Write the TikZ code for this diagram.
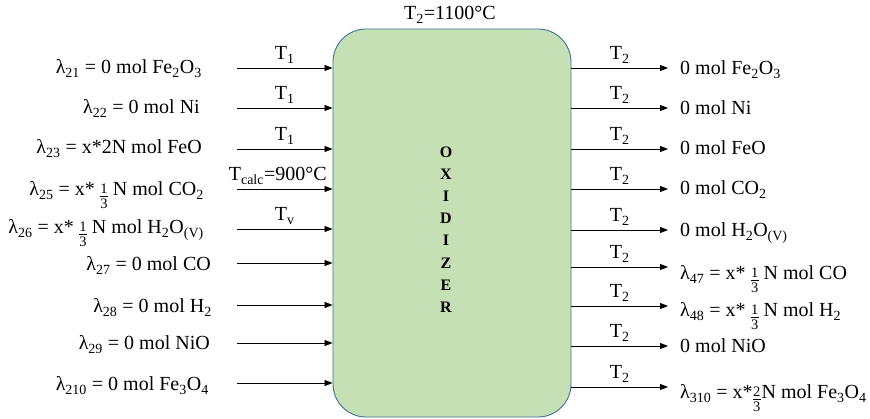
\documentclass[tikz,border=0pt]{standalone}
\usepackage{fontspec}
\setmainfont{Liberation Serif}
\usetikzlibrary{arrows.meta}
\definecolor{boxfill}{HTML}{C5E0B4}
\definecolor{boxline}{HTML}{41719C}
\newcommand\frc[2]{\raisebox{-12.5pt}{\vbox{\offinterlineskip\hbox to 8pt{\hss\fontsize{14.5}{14.5}\selectfont#1\hss}\kern2.5pt\hrule height 0.4pt\kern2.5pt\hbox to 8pt{\hss\fontsize{14.5}{14.5}\selectfont#2\hss}}}}
\newcommand\sub[1]{\textsubscript{#1}}
\begin{document}
\begin{tikzpicture}[x=1pt,y=-1pt,
  every node/.style={font=\fontsize{20}{24}\selectfont, inner sep=0pt},
  lbl/.style={anchor=base east},
  rlbl/.style={anchor=base west},
  tl/.style={anchor=base, yshift=8pt},
  flow/.style={line width=0.8pt, -{Triangle[length=8pt,width=6pt]}}]
\useasboundingbox (0,0) rectangle (870,419);
\node[draw=boxline, line width=0.9pt, fill=boxfill, rounded corners=33pt,
      minimum width=238pt, minimum height=388pt] (box) at (452,223) {};
\node[font=\fontsize{16}{22.2}\selectfont\bfseries, align=center] (name) at (446,229.5) {O\\X\\I\\D\\I\\Z\\E\\R};
\node[anchor=base] (top) at (450,20) {T\sub{2}=1100°C};
% inputs
\foreach \i/\y/\ly/\lx/\t/\tx in {
  1/68/74/202/{λ\sub{21} = 0 mol Fe\sub{2}O\sub{3}}/{T\sub{1}},
  2/108/114/200/{λ\sub{22} = 0 mol Ni}/{T\sub{1}},
  3/149/154/202/{λ\sub{23} = x*2N mol FeO}/{T\sub{1}},
  4/189/196/204/{λ\sub{25} = x* \frc{1}{3} N mol CO\sub{2}}/{\hspace*{-14pt}T\sub{calc}=900°C},
  5/229/234/204/{λ\sub{26} = x* \frc{1}{3} N mol H\sub{2}O\sub{(V)}}/{T\sub{v}},
  6/263/271/211/{λ\sub{27} = 0 mol CO}/{},
  7/305/313/212/{λ\sub{28} = 0 mol H\sub{2}}/{},
  8/343/350/210/{λ\sub{29} = 0 mol NiO}/{},
  9/383/391/209/{λ\sub{210} = 0 mol Fe\sub{3}O\sub{4}}/{}} {
  \node[lbl] (in\i) at (\lx,\ly) {\t};
  \coordinate (s\i) at (237,\y);
  \draw[flow] (s\i) -- node[tl] {\tx} (s\i -| box.west);
}
% outputs
\foreach \i/\y/\ly/\t in {
  1/68/75/{0 mol Fe\sub{2}O\sub{3}},
  2/108/115/{0 mol Ni},
  3/149/155/{0 mol FeO},
  4/189/195/{0 mol CO\sub{2}},
  5/230/237/{0 mol H\sub{2}O\sub{(V)}},
  6/267/280/{λ\sub{47} = x* \frc{1}{3} N mol CO},
  7/306/317/{λ\sub{48} = x* \frc{1}{3} N mol H\sub{2}},
  8/346/353/{0 mol NiO},
  9/387/399/{λ\sub{310} = x*\frc{2}{3}\kern1pt N mol Fe\sub{3}O\sub{4}}} {
  \node[rlbl] (out\i) at (680,\ly) {\t};
  \coordinate (e\i) at (668,\y);
  \draw[flow] (box.east |- e\i) -- node[tl] {T\sub{2}} (e\i);
}
\end{tikzpicture}
\end{document}
